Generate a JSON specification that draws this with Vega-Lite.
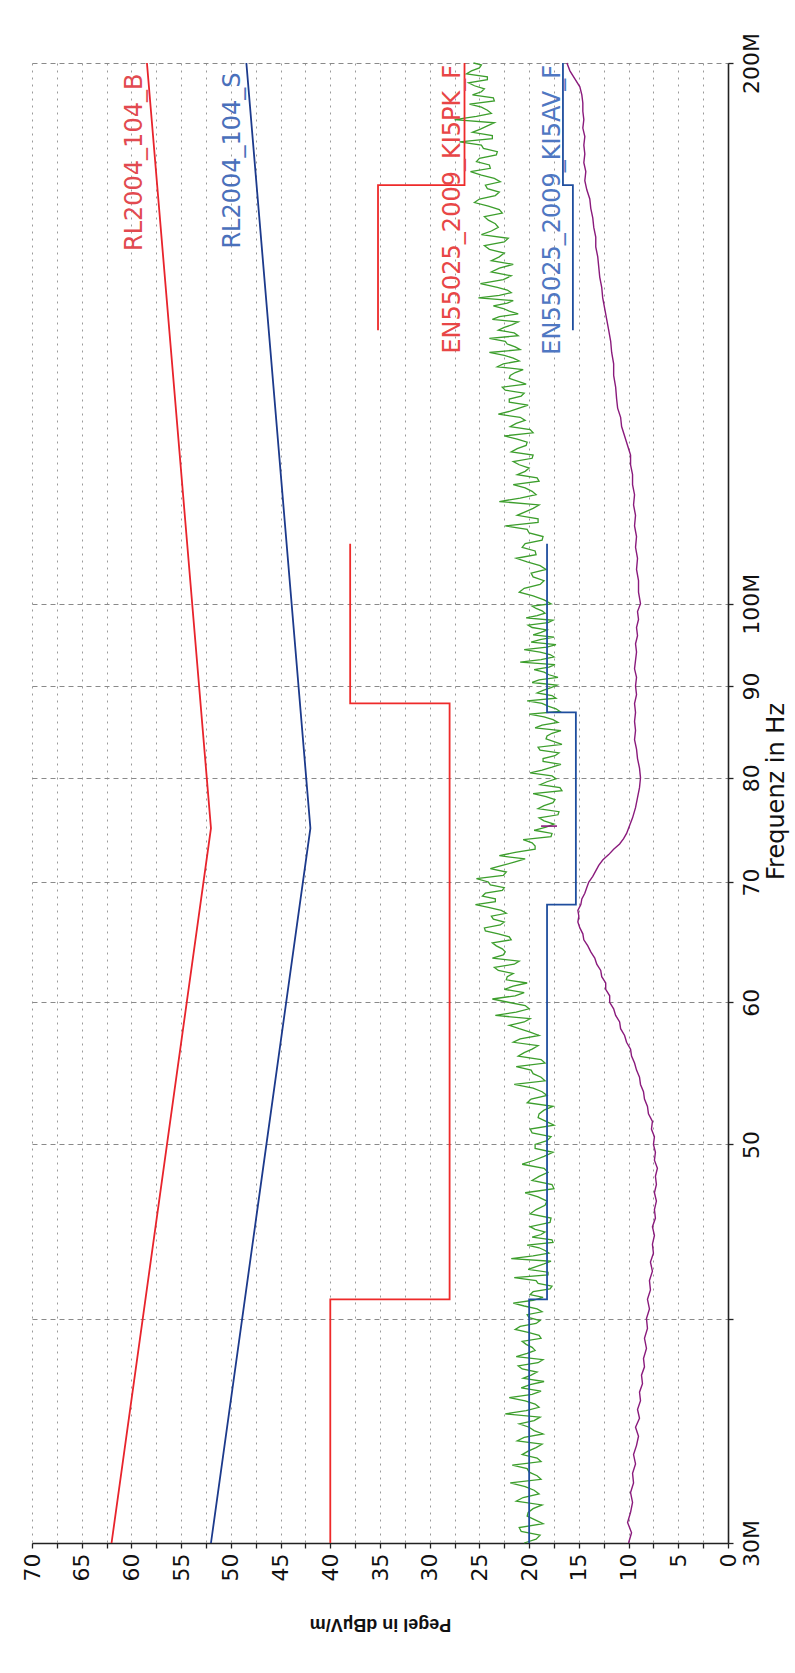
{
 "$schema": "https://vega.github.io/schema/vega-lite/v6.json",
 "width": 696, "height": 1480,
 "autosize": {"type": "none"},
 "padding": {"left": 32, "top": 63, "right": 67, "bottom": 130},
 "background": "white",
 "config": {"view": {"stroke": null}, "font": "DejaVu Sans"},
 "datasets": {
  "rl": [
   {"s":"B","v":62,"f":30},{"s":"B","v":52,"f":75},{"s":"B","v":58.44,"f":200},
   {"s":"S","v":52,"f":30},{"s":"S","v":42,"f":75},{"s":"S","v":48.44,"f":200}
  ],
  "pk": [
   {"g":1,"v":40,"f":30},{"g":1,"v":40,"f":41},{"g":1,"v":28,"f":41},{"g":1,"v":28,"f":88},{"g":1,"v":38,"f":88},{"g":1,"v":38,"f":108},
   {"g":2,"v":35.2,"f":142},{"g":2,"v":35.2,"f":171},{"g":2,"v":26.5,"f":171},{"g":2,"v":26.5,"f":200}
  ],
  "av": [
   {"g":1,"v":20,"f":30},{"g":1,"v":20,"f":41},{"g":1,"v":18.2,"f":41},{"g":1,"v":18.2,"f":68},{"g":1,"v":15.3,"f":68},{"g":1,"v":15.3,"f":87},{"g":1,"v":18.2,"f":87},{"g":1,"v":18.2,"f":108},
   {"g":2,"v":15.6,"f":142},{"g":2,"v":15.6,"f":171},{"g":2,"v":16.6,"f":171},{"g":2,"v":16.6,"f":200}
  ],
  "peak": [
   {"f":30.0,"v":20.5},{"f":30.3,"v":18.9},{"f":30.6,"v":21.0},{"f":30.9,"v":19.4},{"f":31.2,"v":20.1},{"f":31.5,"v":18.7},{"f":31.8,"v":20.6},{"f":32.1,"v":19.5},{"f":32.4,"v":21.9},{"f":32.7,"v":19.2},
   {"f":33.0,"v":20.2},{"f":33.3,"v":18.8},{"f":33.6,"v":20.7},{"f":33.9,"v":19.3},{"f":34.2,"v":21.2},{"f":34.5,"v":18.6},{"f":34.8,"v":20.0},{"f":35.1,"v":19.5},{"f":35.4,"v":22.4},{"f":35.7,"v":19.0},
   {"f":36.0,"v":20.4},{"f":36.3,"v":19.7},{"f":36.6,"v":20.8},{"f":36.9,"v":18.5},{"f":37.2,"v":19.8},{"f":37.5,"v":20.7},{"f":37.8,"v":19.1},{"f":38.1,"v":21.3},{"f":38.4,"v":19.4},{"f":38.7,"v":20.3},
   {"f":39.0,"v":18.8},{"f":39.3,"v":20.1},{"f":39.6,"v":20.9},{"f":39.9,"v":18.9},{"f":40.2,"v":20.2},{"f":40.5,"v":19.2},{"f":40.8,"v":21.6},{"f":41.1,"v":18.6},{"f":41.4,"v":19.6},{"f":41.7,"v":17.7},
   {"f":42.0,"v":19.3},{"f":42.3,"v":18.1},{"f":42.6,"v":20.1},{"f":42.9,"v":18.5},{"f":43.2,"v":21.8},{"f":43.5,"v":18.0},{"f":43.8,"v":19.0},{"f":44.1,"v":17.6},{"f":44.4,"v":19.7},{"f":44.7,"v":18.4},
   {"f":45.0,"v":19.9},{"f":45.5,"v":17.8},{"f":46.0,"v":19.3},{"f":46.5,"v":18.2},{"f":47.0,"v":20.4},{"f":47.5,"v":17.7},{"f":48.0,"v":19.0},{"f":48.5,"v":18.5},{"f":49.0,"v":19.5},{"f":49.5,"v":17.6},
   {"f":50.0,"v":19.4},{"f":50.5,"v":17.8},{"f":51.0,"v":19.9},{"f":51.5,"v":18.3},{"f":52.0,"v":19.0},{"f":52.5,"v":17.6},{"f":53.0,"v":19.8},{"f":53.5,"v":18.7},{"f":54.0,"v":21.5},{"f":54.5,"v":18.8},
   {"f":55.0,"v":19.8},{"f":55.5,"v":18.4},{"f":56.0,"v":21.1},{"f":56.5,"v":19.7},{"f":57.0,"v":21.6},{"f":57.5,"v":19.0},{"f":58.0,"v":21.0},{"f":58.5,"v":20.5},{"f":59.0,"v":23.4},{"f":59.5,"v":20.0},
   {"f":60.0,"v":22.1},{"f":60.5,"v":21.4},{"f":61.0,"v":22.5},{"f":61.5,"v":20.2},{"f":62.0,"v":22.2},{"f":62.5,"v":23.1},{"f":63.0,"v":21.5},{"f":63.5,"v":23.7},{"f":64.0,"v":22.4},{"f":64.5,"v":23.3},
   {"f":65.0,"v":21.8},{"f":65.5,"v":23.1},{"f":66.0,"v":24.5},{"f":66.5,"v":22.5},{"f":67.0,"v":23.8},{"f":67.5,"v":22.8},{"f":68.0,"v":25.4},{"f":68.5,"v":23.4},{"f":69.0,"v":24.4},{"f":69.5,"v":22.5},
   {"f":70.0,"v":24.1},{"f":70.6,"v":22.6},{"f":71.2,"v":23.9},{"f":71.8,"v":21.5},{"f":72.4,"v":23.0},{"f":73.0,"v":19.4},{"f":73.6,"v":19.7},{"f":74.2,"v":17.8},{"f":74.8,"v":19.5},{"f":75.4,"v":17.5},
   {"f":76.0,"v":19.0},{"f":76.6,"v":17.0},{"f":77.2,"v":18.5},{"f":77.8,"v":17.4},{"f":78.4,"v":19.6},{"f":79.0,"v":16.9},{"f":79.6,"v":18.2},{"f":80.2,"v":17.7},{"f":80.8,"v":18.7},{"f":81.4,"v":16.8},
   {"f":82.0,"v":18.6},{"f":82.6,"v":17.0},{"f":83.2,"v":19.1},{"f":83.8,"v":17.5},{"f":84.4,"v":18.2},{"f":85.0,"v":16.8},{"f":85.6,"v":18.7},{"f":86.2,"v":17.6},{"f":86.8,"v":20.0},{"f":87.4,"v":17.3},
   {"f":88.0,"v":18.7},{"f":88.6,"v":17.3},{"f":89.2,"v":19.2},{"f":89.8,"v":17.8},{"f":90.4,"v":19.7},{"f":91.0,"v":17.1},{"f":91.6,"v":18.5},{"f":92.2,"v":18.0},{"f":92.8,"v":20.9},{"f":93.4,"v":17.5},
   {"f":94.0,"v":18.9},{"f":94.6,"v":18.2},{"f":95.2,"v":19.8},{"f":95.8,"v":17.5},{"f":96.4,"v":18.8},{"f":97.0,"v":19.7},{"f":97.6,"v":18.1},{"f":98.2,"v":20.3},{"f":98.8,"v":18.4},{"f":99.4,"v":19.3},
   {"f":100,"v":17.8},{"f":101,"v":19.6},{"f":102,"v":20.5},{"f":103,"v":18.5},{"f":104,"v":19.8},{"f":105,"v":18.9},{"f":106,"v":21.3},{"f":107,"v":19.4},{"f":108,"v":20.4},{"f":109,"v":18.6},
   {"f":110,"v":20.2},{"f":111,"v":19.1},{"f":112,"v":21.2},{"f":113,"v":19.6},{"f":114,"v":23.0},{"f":115,"v":19.3},{"f":116,"v":20.4},{"f":117,"v":19.0},{"f":118,"v":21.2},{"f":119,"v":20.0},
   {"f":120,"v":21.6},{"f":121,"v":19.6},{"f":122,"v":21.2},{"f":123,"v":20.2},{"f":124,"v":22.5},{"f":125,"v":19.9},{"f":126,"v":21.3},{"f":127,"v":20.9},{"f":128,"v":21.9},{"f":129,"v":20.1},
   {"f":130,"v":22.0},{"f":131,"v":20.5},{"f":132,"v":22.7},{"f":133,"v":21.1},{"f":134,"v":21.9},{"f":135,"v":20.6},{"f":136,"v":22.6},{"f":137,"v":21.6},{"f":138,"v":24.0},{"f":139,"v":21.4},
   {"f":140,"v":22.4},{"f":141,"v":21.1},{"f":142,"v":23.1},{"f":143,"v":21.7},{"f":144,"v":23.7},{"f":145,"v":21.1},{"f":146,"v":22.6},{"f":147,"v":22.2},{"f":148,"v":25.1},{"f":149,"v":21.8},
   {"f":150,"v":23.2},{"f":151.5,"v":22.6},{"f":153,"v":23.8},{"f":154.5,"v":21.6},{"f":156,"v":23.0},{"f":157.5,"v":24.0},{"f":159,"v":22.5},{"f":160.5,"v":24.8},{"f":162,"v":23.1},{"f":163.5,"v":24.1},
   {"f":165,"v":22.7},{"f":166.5,"v":24.1},{"f":168,"v":25.0},{"f":169.5,"v":23.0},{"f":171,"v":24.4},{"f":172.5,"v":23.5},{"f":174,"v":25.9},{"f":175.5,"v":24.0},{"f":177,"v":25.0},{"f":178.5,"v":23.2},
   {"f":180,"v":24.8},{"f":181.5,"v":23.7},{"f":183,"v":25.7},{"f":184.5,"v":24.2},{"f":186,"v":27.5},{"f":187.5,"v":23.8},{"f":189,"v":24.8},{"f":190.5,"v":23.5},{"f":192,"v":25.7},{"f":193.5,"v":24.5},
   {"f":195,"v":26.1},{"f":196.5,"v":24.2},{"f":198,"v":25.8},{"f":199.5,"v":24.8},{"f":200,"v":25.6},
   {"f":30.15,"v":19.3},{"f":30.45,"v":20.8},{"f":30.75,"v":18.6},{"f":31.05,"v":20.2},{"f":31.35,"v":19.6},{"f":31.65,"v":21.3},{"f":31.95,"v":19.0},{"f":32.25,"v":20.4},{"f":32.55,"v":18.8},{"f":32.85,"v":20.0},
   {"f":33.15,"v":21.7},{"f":33.45,"v":19.2},{"f":33.75,"v":20.1},{"f":34.05,"v":18.7},{"f":34.35,"v":20.5},{"f":34.65,"v":19.5},{"f":34.95,"v":21.0},{"f":35.25,"v":18.9},{"f":35.55,"v":20.3},{"f":35.85,"v":19.4},
   {"f":36.15,"v":22.0},{"f":36.45,"v":18.8},{"f":36.75,"v":19.9},{"f":37.05,"v":20.6},{"f":37.35,"v":19.2},{"f":37.65,"v":21.1},{"f":37.95,"v":18.6},{"f":38.25,"v":20.2},{"f":38.55,"v":19.7},{"f":38.85,"v":20.7},
   {"f":39.15,"v":19.0},{"f":39.45,"v":21.4},{"f":39.75,"v":19.3},{"f":40.05,"v":20.0},{"f":40.35,"v":18.7},{"f":40.65,"v":20.5},{"f":40.95,"v":19.6},{"f":41.25,"v":19.9},{"f":41.55,"v":17.9},{"f":41.85,"v":19.1},
   {"f":42.15,"v":21.5},{"f":42.45,"v":18.1},{"f":42.75,"v":19.3},{"f":43.05,"v":17.8},{"f":43.35,"v":19.6},{"f":43.65,"v":18.4},{"f":43.95,"v":20.2},{"f":44.25,"v":17.7},{"f":44.55,"v":18.8},{"f":44.85,"v":19.4},
   {"f":45.25,"v":17.9},{"f":45.75,"v":19.9},{"f":46.25,"v":18.4},{"f":46.75,"v":19.1},{"f":47.25,"v":17.5},{"f":47.75,"v":19.7},{"f":48.25,"v":18.1},{"f":48.75,"v":20.7},{"f":49.25,"v":18.5},{"f":49.75,"v":19.4},
   {"f":50.25,"v":18.2},{"f":50.75,"v":19.7},{"f":51.25,"v":17.5},{"f":51.75,"v":19.1},{"f":52.25,"v":18.5},{"f":52.75,"v":20.2},{"f":53.25,"v":18.2},{"f":53.75,"v":19.6},{"f":54.25,"v":18.4},{"f":54.75,"v":19.6},
   {"f":55.25,"v":21.3},{"f":55.75,"v":18.8},{"f":56.25,"v":20.5},{"f":56.75,"v":19.1},{"f":57.25,"v":20.9},{"f":57.75,"v":19.9},{"f":58.25,"v":22.0},{"f":58.75,"v":19.9},{"f":59.25,"v":21.3},{"f":59.75,"v":20.4},
   {"f":60.25,"v":23.7},{"f":60.75,"v":20.5},{"f":61.25,"v":21.6},{"f":61.75,"v":22.3},{"f":62.25,"v":21.6},{"f":62.75,"v":23.5},{"f":63.25,"v":21.0},{"f":63.75,"v":22.6},{"f":64.25,"v":22.7},{"f":64.75,"v":23.7},
   {"f":65.25,"v":22.0},{"f":65.75,"v":24.4},{"f":66.25,"v":22.9},{"f":66.75,"v":23.6},{"f":67.25,"v":22.3},{"f":67.75,"v":24.1},{"f":68.25,"v":23.4},{"f":68.75,"v":24.7},{"f":69.25,"v":22.7},{"f":69.75,"v":23.9},
   {"f":70.3,"v":25.3},{"f":70.9,"v":22.3},{"f":71.5,"v":22.7},{"f":72.1,"v":20.4},{"f":72.7,"v":21.4},{"f":73.3,"v":19.4},{"f":73.9,"v":20.6},{"f":74.5,"v":17.7},{"f":75.1,"v":18.3},{"f":75.7,"v":18.5},
   {"f":76.3,"v":17.1},{"f":76.9,"v":19.1},{"f":77.5,"v":17.6},{"f":78.1,"v":18.3},{"f":78.7,"v":16.7},{"f":79.3,"v":18.9},{"f":79.9,"v":17.3},{"f":80.5,"v":19.9},{"f":81.1,"v":17.7},{"f":81.7,"v":18.6},
   {"f":82.3,"v":17.4},{"f":82.9,"v":18.9},{"f":83.5,"v":16.7},{"f":84.1,"v":18.3},{"f":84.7,"v":17.7},{"f":85.3,"v":19.4},{"f":85.9,"v":17.1},{"f":86.5,"v":18.5},{"f":87.1,"v":16.9},{"f":87.7,"v":18.1},
   {"f":88.3,"v":20.2},{"f":88.9,"v":17.7},{"f":89.5,"v":18.6},{"f":90.1,"v":17.2},{"f":90.7,"v":19.0},{"f":91.3,"v":18.0},{"f":91.9,"v":19.5},{"f":92.5,"v":17.4},{"f":93.1,"v":18.8},{"f":93.7,"v":17.9},
   {"f":94.3,"v":20.5},{"f":94.9,"v":17.3},{"f":95.5,"v":18.9},{"f":96.1,"v":19.6},{"f":96.7,"v":18.2},{"f":97.3,"v":20.1},{"f":97.9,"v":17.6},{"f":98.5,"v":19.2},{"f":99.1,"v":18.7},{"f":99.7,"v":19.7},
   {"f":100.5,"v":18.5},{"f":101.5,"v":21.0},{"f":102.5,"v":18.9},{"f":103.5,"v":19.6},{"f":104.5,"v":18.3},{"f":105.5,"v":20.2},{"f":106.5,"v":19.3},{"f":107.5,"v":20.7},{"f":108.5,"v":18.7},{"f":109.5,"v":20.0},
   {"f":110.5,"v":22.4},{"f":111.5,"v":19.1},{"f":112.5,"v":20.4},{"f":113.5,"v":19.0},{"f":114.5,"v":20.9},{"f":115.5,"v":19.7},{"f":116.5,"v":21.6},{"f":117.5,"v":19.2},{"f":118.5,"v":20.4},{"f":119.5,"v":21.0},
   {"f":120.5,"v":19.7},{"f":121.5,"v":21.8},{"f":122.5,"v":20.3},{"f":123.5,"v":21.2},{"f":124.5,"v":19.6},{"f":125.5,"v":21.9},{"f":126.5,"v":20.4},{"f":127.5,"v":23.1},{"f":128.5,"v":21.0},{"f":129.5,"v":22.0},
   {"f":130.5,"v":20.8},{"f":131.5,"v":22.4},{"f":132.5,"v":20.3},{"f":133.5,"v":22.0},{"f":134.5,"v":21.4},{"f":135.5,"v":23.2},{"f":136.5,"v":21.0},{"f":137.5,"v":22.5},{"f":138.5,"v":20.9},{"f":139.5,"v":22.2},
   {"f":140.5,"v":24.0},{"f":141.5,"v":21.5},{"f":142.5,"v":22.5},{"f":143.5,"v":21.1},{"f":144.5,"v":23.0},{"f":145.5,"v":22.0},{"f":146.5,"v":23.6},{"f":147.5,"v":21.6},{"f":148.5,"v":23.0},{"f":149.5,"v":22.2},
   {"f":150.75,"v":24.9},{"f":152.25,"v":21.8},{"f":153.75,"v":23.0},{"f":155.25,"v":23.8},{"f":156.75,"v":22.5},{"f":158.25,"v":24.5},{"f":159.75,"v":22.1},{"f":161.25,"v":23.8},{"f":162.75,"v":23.4},{"f":164.25,"v":24.5},
   {"f":165.75,"v":23.0},{"f":167.25,"v":25.5},{"f":168.75,"v":23.4},{"f":170.25,"v":24.2},{"f":171.75,"v":22.9},{"f":173.25,"v":24.8},{"f":174.75,"v":23.9},{"f":176.25,"v":25.3},{"f":177.75,"v":23.3},{"f":179.25,"v":24.6},
   {"f":180.75,"v":27.0},{"f":182.25,"v":23.7},{"f":183.75,"v":24.9},{"f":185.25,"v":23.5},{"f":186.75,"v":25.3},{"f":188.25,"v":24.2},{"f":189.75,"v":26.0},{"f":191.25,"v":23.6},{"f":192.75,"v":24.8},{"f":194.25,"v":25.5},
   {"f":195.75,"v":24.2},{"f":197.25,"v":26.3},{"f":198.75,"v":25.0}
  ],
  "avg": [
   {"f":30,"v":10.0},{"f":30.4,"v":9.7},{"f":30.8,"v":10.1},{"f":31.2,"v":9.8},{"f":31.6,"v":9.6},{"f":32,"v":9.8},{"f":32.4,"v":9.5},{"f":32.8,"v":9.6},{"f":33.2,"v":9.3},{"f":33.6,"v":9.5},
   {"f":34,"v":9.2},{"f":34.4,"v":9.0},{"f":34.8,"v":9.3},{"f":35.2,"v":8.9},{"f":35.6,"v":9.1},{"f":36,"v":8.8},{"f":36.4,"v":8.9},{"f":36.8,"v":8.6},{"f":37.2,"v":8.7},{"f":37.6,"v":8.4},
   {"f":38,"v":8.5},{"f":38.5,"v":8.2},{"f":39,"v":8.4},{"f":39.5,"v":8.1},{"f":40,"v":8.2},{"f":40.5,"v":7.9},{"f":41,"v":8.1},{"f":41.5,"v":7.8},{"f":42,"v":7.9},{"f":42.5,"v":7.6},
   {"f":43,"v":7.8},{"f":43.5,"v":7.5},{"f":44,"v":7.6},{"f":44.5,"v":7.4},{"f":45,"v":7.6},{"f":45.5,"v":7.3},{"f":46,"v":7.4},{"f":46.5,"v":7.2},{"f":47,"v":7.4},{"f":47.5,"v":7.2},
   {"f":48,"v":7.3},{"f":48.5,"v":7.1},{"f":49,"v":7.4},{"f":49.5,"v":7.3},{"f":50,"v":7.5},{"f":50.5,"v":7.4},{"f":51,"v":7.7},{"f":51.5,"v":7.6},{"f":52,"v":8.0},{"f":52.5,"v":8.1},
   {"f":53,"v":8.4},{"f":53.5,"v":8.5},{"f":54,"v":8.8},{"f":54.5,"v":8.9},{"f":55,"v":9.2},{"f":55.5,"v":9.4},{"f":56,"v":9.7},{"f":56.5,"v":9.8},{"f":57,"v":10.2},{"f":57.5,"v":10.4},
   {"f":58,"v":10.8},{"f":58.5,"v":10.9},{"f":59,"v":11.3},{"f":59.5,"v":11.5},{"f":60,"v":11.9},{"f":60.5,"v":11.9},{"f":61,"v":12.3},{"f":61.5,"v":12.3},{"f":62,"v":12.7},{"f":62.5,"v":12.8},
   {"f":63,"v":13.2},{"f":63.5,"v":13.4},{"f":64,"v":13.8},{"f":64.5,"v":14.1},{"f":65,"v":14.5},{"f":65.5,"v":14.6},{"f":66,"v":14.9},{"f":66.5,"v":15.1},{"f":67,"v":15.0},{"f":67.5,"v":15.1},
   {"f":68,"v":14.8},{"f":68.5,"v":14.7},{"f":69,"v":14.4},{"f":69.5,"v":14.2},{"f":70,"v":14.0},{"f":70.5,"v":13.6},{"f":71,"v":13.3},{"f":71.5,"v":13.0},{"f":72,"v":12.6},{"f":72.5,"v":12.0},
   {"f":73,"v":11.5},{"f":73.5,"v":10.9},{"f":74,"v":10.5},{"f":74.5,"v":10.2},{"f":75,"v":10.0},{"f":75.5,"v":9.8},{"f":76,"v":9.6},{"f":77,"v":9.3},{"f":78,"v":9.1},{"f":79,"v":8.9},
   {"f":80,"v":8.8},{"f":81,"v":8.9},{"f":82,"v":9.1},{"f":83,"v":9.2},{"f":84,"v":9.4},{"f":85,"v":9.3},{"f":86,"v":9.4},{"f":87,"v":9.3},{"f":88,"v":9.4},{"f":89,"v":9.2},
   {"f":90,"v":9.3},{"f":91,"v":9.2},{"f":92,"v":9.4},{"f":93,"v":9.3},{"f":94,"v":9.2},{"f":95,"v":9.3},{"f":96,"v":9.1},{"f":97,"v":9.2},{"f":98,"v":9.0},{"f":99,"v":9.1},
   {"f":100,"v":8.8},{"f":101.5,"v":9.0},{"f":103,"v":9.0},{"f":104.5,"v":9.2},{"f":106,"v":9.1},{"f":107.5,"v":9.3},{"f":109,"v":9.2},{"f":110.5,"v":9.4},{"f":112,"v":9.3},{"f":113.5,"v":9.5},
   {"f":115,"v":9.4},{"f":116.5,"v":9.6},{"f":118,"v":9.6},{"f":119.5,"v":9.8},{"f":121,"v":9.8},{"f":122.5,"v":10.1},{"f":124,"v":10.4},{"f":125.5,"v":10.7},{"f":127,"v":10.8},{"f":128.5,"v":11.1},
   {"f":130,"v":11.2},{"f":132,"v":11.3},{"f":134,"v":11.5},{"f":136,"v":11.5},{"f":138,"v":11.7},{"f":140,"v":11.8},{"f":142,"v":12.0},{"f":144,"v":12.2},{"f":146,"v":12.4},{"f":148,"v":12.6},
   {"f":150,"v":12.7},{"f":152,"v":12.9},{"f":154,"v":13.0},{"f":156,"v":13.1},{"f":158,"v":13.3},{"f":160,"v":13.3},{"f":162,"v":13.5},{"f":164,"v":13.6},{"f":166,"v":13.8},{"f":168,"v":13.9},
   {"f":170,"v":14.2},{"f":172,"v":14.4},{"f":174,"v":14.3},{"f":176,"v":14.5},{"f":178,"v":14.4},{"f":180,"v":14.5},{"f":182,"v":14.4},{"f":184,"v":14.6},{"f":186,"v":14.5},{"f":188,"v":14.6},
   {"f":190,"v":14.6},{"f":192,"v":14.7},{"f":194,"v":14.9},{"f":196,"v":15.4},{"f":198,"v":15.9},{"f":200,"v":16.2}
  ],
  "marker": [{"f":75.2,"v":17.2,"v2":18.8}],
  "labels": [
   {"s":"RLB","t":"RL2004_104_B","v":58.95,"f":197.3},
   {"s":"RLS","t":"RL2004_104_S","v":49.1,"f":197.6},
   {"s":"PK","t":"EN55025_2009_KI5PK_F","v":27.0,"f":199.5},
   {"s":"AV","t":"EN55025_2009_KI5AV_F","v":16.9,"f":199.5}
  ]
 },
 "encoding": {
  "x": {"field": "v", "type": "quantitative",
   "scale": {"domain": [0, 70], "reverse": true, "nice": false, "zero": false},
   "axis": {"orient": "bottom",
    "values": [0,2.5,5,7.5,10,12.5,15,17.5,20,22.5,25,27.5,30,32.5,35,37.5,40,42.5,45,47.5,50,52.5,55,57.5,60,62.5,65,67.5,70],
    "labelExpr": "datum.value % 5 == 0 ? format(datum.value, 'd') : ''",
    "labelAngle": -90, "labelAlign": "right", "labelBaseline": "middle", "labelPadding": 5,
    "labelFontSize": 22, "labelFont": "DejaVu Sans", "labelColor": "#111",
    "labelOverlap": false, "labelFlush": false, "labelBound": false,
    "tickSize": 5, "tickColor": "#222", "tickWidth": 1.3,
    "domainColor": "#222", "domainWidth": 1.6,
    "grid": true, "gridColor": "#9a9a9a", "gridDash": [2, 5], "gridWidth": 1,
    "title": "Pegel in dBµV/m", "titleAngle": 180, "titleFontWeight": "bold", "titleFontSize": 18,
    "titleFont": "Liberation Sans", "titleAlign": "center", "titleBaseline": "middle",
    "titleX": 348, "titleY": 80, "titleColor": "#111"}},
  "y": {"field": "f", "type": "quantitative",
   "scale": {"type": "log", "domain": [30, 200], "nice": false},
   "axis": {"orient": "right",
    "values": [30,40,50,60,70,80,90,100,200],
    "labelExpr": "datum.value == 30 ? '30M' : datum.value == 100 ? '100M' : datum.value == 200 ? '200M' : datum.value == 40 ? '' : format(datum.value, 'd')",
    "labelAngle": -90, "labelAlign": "center", "labelBaseline": "top", "labelPadding": 8,
    "labelFontSize": 22, "labelFont": "DejaVu Sans", "labelColor": "#111",
    "labelOverlap": false, "labelFlush": false, "labelBound": false,
    "tickSize": 5, "tickColor": "#222", "tickWidth": 1.3,
    "domainColor": "#222", "domainWidth": 1.6,
    "grid": true, "gridColor": "#8a8a8a", "gridDash": [5, 4], "gridWidth": 1,
    "title": "Frequenz in Hz", "titleAngle": -90, "titleFontSize": 24, "titleFont": "DejaVu Sans",
    "titleFontWeight": "normal", "titleAlign": "center", "titleBaseline": "top",
    "titleX": 36, "titleY": 728, "titleColor": "#111"}}
 },
 "layer": [
  {
   "data": {"name": "peak"},
   "mark": {"type": "line", "color": "#3c9e2c", "strokeWidth": 1.3},
   "encoding": {"order": {"field": "f", "type": "quantitative"}}
  },
  {
   "data": {"name": "avg"},
   "mark": {"type": "line", "color": "#8a1a7c", "strokeWidth": 1.4},
   "encoding": {"order": {"field": "f", "type": "quantitative"}}
  },
  {
   "data": {"name": "marker"},
   "mark": {"type": "rule", "color": "#8a1a7c", "strokeWidth": 1.6},
   "encoding": {"x2": {"field": "v2"}}
  },
  {
   "data": {"name": "rl"},
   "mark": {"type": "line", "strokeWidth": 1.8},
   "encoding": {
    "color": {"field": "s", "type": "nominal", "legend": null,
     "scale": {"domain": ["B", "S", "RLB", "RLS", "PK", "AV"], "range": ["#e8242c", "#1c3a8c", "#e24a50", "#4a70bb", "#e84646", "#4f77c2"]}},
    "order": {"value": null}
   }
  },
  {
   "data": {"name": "pk"},
   "mark": {"type": "line", "color": "#ee2a2a", "strokeWidth": 1.8},
   "encoding": {"detail": {"field": "g", "type": "nominal"}, "order": {"value": null}}
  },
  {
   "data": {"name": "av"},
   "mark": {"type": "line", "color": "#1f4e9e", "strokeWidth": 1.8},
   "encoding": {"detail": {"field": "g", "type": "nominal"}, "order": {"value": null}}
  },
  {
   "data": {"name": "labels"},
   "mark": {"type": "text", "angle": 270, "align": "right", "baseline": "alphabetic", "font": "DejaVu Sans", "fontSize": 24},
   "encoding": {
    "text": {"field": "t"},
    "color": {"field": "s", "type": "nominal", "legend": null}
   }
  }
 ]
}
